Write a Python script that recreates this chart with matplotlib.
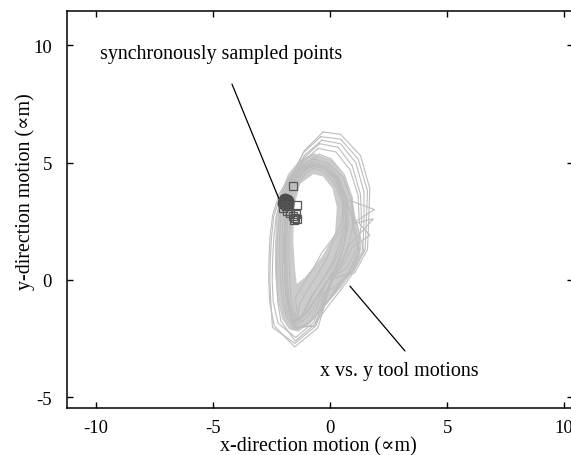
import matplotlib
matplotlib.use("Agg")
import matplotlib.pyplot as plt

plt.rcParams['font.family'] = ['Liberation Serif', 'DejaVu Serif']
plt.rcParams['axes.unicode_minus'] = False

# ---- data ----
x_ticks = [-10, -5, 0, 5, 10]
y_ticks = [-5, 0, 5, 10]

# envelope of the densely overlapped orbit band (outer edge, then the empty hole)
band_outer_x = [-0.7, -1.3, -1.8, -2.15, -2.3, -2.35, -2.35, -2.25, -2.05, -1.75, -1.35,
                -0.8, -0.2, 0.45, 1.05, 1.35, 1.15, 0.95, 0.62, 0.1]
band_outer_y = [5.4, 5.1, 4.5, 3.6, 2.6, 1.5, 0.3, -0.8, -1.65, -2.1, -2.2,
                -1.8, -1.1, -0.35, 0.45, 1.35, 2.4, 3.4, 4.4, 5.1]
hole_x = [-0.71, -1.28, -1.53, -1.57, -1.5, -1.42, -1.07, -0.36, 0.21, 0.29, 0.1, -0.3]
hole_y = [4.51, 4.09, 3.09, 1.67, 0.5, -0.17, 0.11, 0.97, 1.96, 3.09, 3.9, 4.4]

# individual orbit loops (x vs. y tool motion)
orbit_x = [
    [-0.7,-1.15,-1.5,-1.75,-1.9,-1.95,-1.95,-1.92,-1.85,-1.7,-1.42,-0.98,-0.52,-0.1,0.3,0.6,0.8,0.72,0.38,-0.2],
    [-0.7,-1.25,-1.66,-1.94,-2.1,-2.15,-2.15,-2.12,-2.04,-1.86,-1.45,-0.85,-0.4,0.05,0.46,0.79,1.85,1.0,0.9,0.52,-0.12],
    [-0.7,-1.05,-1.34,-1.56,-1.7,-1.75,-1.75,-1.72,-1.66,-1.54,-1.4,-1.1,-0.7,-0.25,0.14,0.41,0.6,0.52,0.15,-0.28],
    [-0.7,-1.2,-1.58,-1.85,-2.0,-2.05,-2.05,-2.02,-1.95,-1.78,-1.45,-0.7,-0.18,0.28,0.8,1.25,0.95,1.9,0.72,0.38,-0.16],
    [-0.7,-1.1,-1.42,-1.66,-1.8,-1.85,-1.85,-1.82,-1.75,-1.62,-1.39,-1.3,-0.93,-0.48,-0.1,0.13,0.7,0.53,0.23,-0.24],
    [-0.7,-1.15,-1.5,-1.75,-1.9,-1.95,-1.95,-1.92,-1.85,-1.7,-1.45,-0.7,-0.15,0.4,0.95,1.45,1.15,0.62,0.3,-0.2],
    [-0.7,-1.12,-1.46,-1.7,-1.85,-1.9,-1.9,-1.87,-1.8,-1.65,-1.38,-1.48,-1.15,-0.7,-0.34,0.1,0.5,0.58,0.27,-0.22],
    [-0.7,-1.2,-1.66,-2.04,-2.3,-2.4,-2.45,-2.47,-2.43,-2.22,-1.47,-0.7,-0.33,0.01,0.34,0.6,0.72,0.62,0.3,-0.2],
    [-0.7,-1.23,-1.74,-2.18,-2.45,-2.57,-2.61,-2.62,-2.58,-2.38,-1.51,-0.52,-0.21,0.05,0.34,0.6,0.72,0.62,0.3,-0.2],
    [-0.7,-1.18,-1.62,-1.94,-2.15,-2.25,-2.28,-2.28,-2.24,-2.1,-1.49,-0.64,-0.29,0.01,0.34,0.6,0.72,0.62,0.3,-0.2],
    [-0.7,-1.2,-1.7,-2.1,-2.4,-2.5,-2.55,-2.57,-2.53,-2.46,-1.5,-0.6,-0.25,0.03,0.34,0.6,0.72,0.62,0.3,-0.2],
    [-0.5,-1.15,-1.55,-1.75,-1.9,-1.95,-1.95,-1.92,-1.85,-1.7,-1.4,-1.0,-0.55,-0.1,0.5,0.95,1.7,1.25,1.2,0.85,0.25],
    [-0.35,-1.1,-1.55,-1.75,-1.9,-1.95,-1.95,-1.92,-1.85,-1.7,-1.4,-1.0,-0.55,-0.1,0.85,1.4,1.45,1.45,1.1,0.45],
    [-0.3,-1.1,-1.6,-1.75,-1.9,-1.95,-1.95,-1.92,-1.85,-1.7,-1.4,-1.0,-0.55,-0.1,1.05,1.6,1.65,1.7,1.3,0.45],
    [-0.45,-1.15,-1.52,-1.75,-1.9,-1.95,-1.95,-1.92,-1.85,-1.7,-1.4,-1.0,-0.55,-0.1,0.4,0.78,1.0,0.95,0.6,0.05],
    [-0.4,-1.15,-1.6,-1.75,-1.9,-1.95,-1.95,-1.92,-1.85,-1.7,-1.4,-1.0,-0.55,0.2,0.9,1.5,1.55,1.6,1.2,0.45],
    [-0.45,-1.12,-1.55,-1.75,-1.9,-1.95,-1.95,-1.92,-1.85,-1.7,-1.4,-1.0,-0.55,-0.1,0.7,1.2,1.35,1.3,0.95,0.35],
    [-0.7,-1.15,-1.5,-1.75,-1.9,-1.95,-1.95,-1.92,-1.85,-1.7,-1.6,-1.0,-0.4,0.15,0.7,1.25,1.0,0.72,0.38,-0.2],
    [-0.7,-1.15,-1.5,-1.75,-1.9,-1.95,-1.95,-1.92,-1.85,-1.7,-1.5,-1.2,-0.8,-0.35,0.1,0.45,0.65,0.72,0.38,-0.2],
]
orbit_y = [
    [4.95,4.7,4.2,3.5,2.7,1.8,0.9,0.0,-0.8,-1.45,-1.9,-1.6,-0.9,0.0,0.7,1.5,2.4,3.4,4.3,4.8],
    [5.15,4.87,4.32,3.56,2.72,1.8,0.9,-0.01,-0.84,-1.57,-2.1,-1.78,-0.83,-0.13,0.58,1.44,2.6,2.4,3.46,4.43,4.98],
    [4.75,4.53,4.08,3.44,2.68,1.8,0.9,0.01,-0.76,-1.33,-1.7,-1.4,-0.57,0.13,0.82,1.56,2.4,3.34,4.17,4.62],
    [5.05,4.79,4.26,3.53,2.71,1.8,0.9,-0.01,-0.82,-1.51,-2.0,-1.95,-1.03,-0.33,0.35,1.3,2.4,3.0,3.43,4.37,4.89],
    [4.85,4.62,4.14,3.47,2.69,1.8,0.9,0.01,-0.78,-1.39,-1.65,-1.0,-0.38,0.33,1.0,1.65,2.4,3.37,4.24,4.71],
    [4.95,4.7,4.2,3.5,2.7,1.8,0.9,0.0,-0.8,-1.45,-2.05,-1.95,-1.2,-0.5,0.25,1.2,2.4,3.4,4.3,4.8],
    [4.9,4.66,4.17,3.48,2.69,1.8,0.9,0.0,-0.79,-1.42,-1.6,-0.76,-0.18,0.52,1.18,1.75,2.4,3.38,4.26,4.76],
    [4.95,4.79,4.32,3.59,2.74,1.8,0.9,-0.03,-0.92,-1.84,-2.45,-1.8,-0.9,-0.1,0.67,1.5,2.4,3.4,4.3,4.8],
    [4.95,4.83,4.38,3.64,2.76,1.8,0.9,-0.04,-0.95,-1.96,-2.85,-2.04,-0.99,-0.13,0.67,1.5,2.4,3.4,4.3,4.8],
    [4.95,4.74,4.29,3.56,2.73,1.8,0.9,-0.02,-0.88,-1.75,-2.6,-1.88,-0.93,-0.1,0.67,1.5,2.4,3.4,4.3,4.8],
    [4.95,4.79,4.35,3.61,2.75,1.8,0.9,-0.03,-0.93,-2.02,-2.7,-1.95,-0.96,-0.12,0.67,1.5,2.4,3.4,4.3,4.8],
    [5.6,5.05,4.3,3.5,2.7,1.8,0.9,0.0,-0.8,-1.45,-1.75,-1.4,-0.7,0.0,0.55,1.4,1.9,2.4,3.6,4.7,5.45],
    [5.95,5.3,4.4,3.5,2.7,1.8,0.9,0.0,-0.8,-1.45,-1.75,-1.4,-0.7,0.0,0.3,1.25,2.45,3.75,5.0,5.8],
    [6.3,5.5,4.5,3.5,2.7,1.8,0.9,0.0,-0.8,-1.45,-1.75,-1.4,-0.7,0.0,0.3,1.3,2.5,3.9,5.3,6.2],
    [5.35,4.9,4.25,3.5,2.7,1.8,0.9,0.0,-0.8,-1.45,-1.75,-1.4,-0.7,0.0,0.62,1.45,2.4,3.5,4.5,5.15],
    [6.1,5.4,4.45,3.5,2.7,1.8,0.9,0.0,-0.8,-1.45,-1.75,-1.4,-0.7,-0.3,0.3,1.3,2.5,3.8,5.15,6.0],
    [5.8,5.2,4.35,3.5,2.7,1.8,0.9,0.0,-0.8,-1.45,-1.75,-1.4,-0.7,0.0,0.5,1.4,2.45,3.65,4.85,5.65],
    [4.95,4.7,4.2,3.5,2.7,1.8,0.9,0.0,-0.8,-1.45,-2.1,-1.95,-1.3,-0.6,0.2,1.1,2.4,3.4,4.3,4.8],
    [4.95,4.7,4.2,3.5,2.7,1.8,0.9,0.0,-0.8,-1.45,-1.8,-1.5,-0.7,-0.05,0.6,1.35,2.3,3.4,4.3,4.8],
]

# synchronously sampled points
filled_x = [-1.92, -1.85, -1.95, -1.82]
filled_y = [3.42, 3.35, 3.28, 3.22]
square_x = [-1.57, -1.42, -2.0, -1.85, -1.72, -1.6, -1.45, -1.42, -1.55, -1.5, -1.9]
square_y = [4.02, 3.2, 3.05, 2.92, 2.85, 2.72, 2.82, 2.6, 2.55, 2.62, 3.15]

# annotation texts and leader lines
label_sync = 'synchronously sampled points'
label_sync_pos = (-9.83, 9.62)
leader_sync = [(-4.19, 8.34), (-2.18, 3.45)]
label_tool = 'x vs. y tool motions'
label_tool_pos = (-0.43, -3.87)
leader_tool = [(0.85, -0.26), (3.2, -3.02)]

W, H = 571, 456
fig = plt.figure(figsize=(W / 100, H / 100), dpi=100)
ax = fig.add_axes([66.7 / W, 47 / H, (573 - 66.7) / W, (409 - 12) / H])

band_col = '#cbcbcb'
line_col = '#bdbdbd'
ax.fill(band_outer_x, band_outer_y, color=band_col, lw=0, zorder=1)
ax.fill(hole_x, hole_y, color='white', lw=0, zorder=1.1)
for xs, ys in zip(orbit_x, orbit_y):
    ax.plot(xs + xs[:1], ys + ys[:1], color=line_col, lw=0.8, solid_joinstyle='round', zorder=2)

ax.plot(filled_x, filled_y, 'o', ms=9, color='#4d4d4d', mec='#4d4d4d', zorder=4)
ax.plot(square_x, square_y, 's', ms=5.8, mfc='none', mec='#555555', mew=0.9, zorder=5)

fs = 14.4
ax.text(*label_sync_pos, label_sync, fontsize=fs, va='center', ha='left')
ax.text(*label_tool_pos, label_tool, fontsize=fs, va='center', ha='left')
for (x0, y0), (x1, y1) in (leader_sync, leader_tool):
    ax.annotate('', xy=(x1, y1), xytext=(x0, y0),
                arrowprops=dict(arrowstyle='-', color='black', lw=0.9, shrinkA=0, shrinkB=0))

ax.set_xlim(-11.25, 10.38)
ax.set_ylim(-5.45, 11.45)
ax.set_xticks(x_ticks)
ax.set_yticks(y_ticks)
ax.tick_params(direction='in', top=True, right=True, length=4, width=1, labelsize=13.5)
ax.tick_params(axis='x', pad=8)
ax.tick_params(axis='y', pad=10.5)
for s in ax.spines.values():
    s.set_linewidth(1.1)

ax.set_xlabel('x-direction motion (\u221dm)', fontsize=fs, va='center')
ax.xaxis.set_label_coords(0.497, -0.0955)
ax.set_ylabel('y-direction motion (\u221dm)', fontsize=fs, va='center')
ax.yaxis.set_label_coords(-0.0824, 0.5466)

fig.savefig('out.png', dpi=100)
